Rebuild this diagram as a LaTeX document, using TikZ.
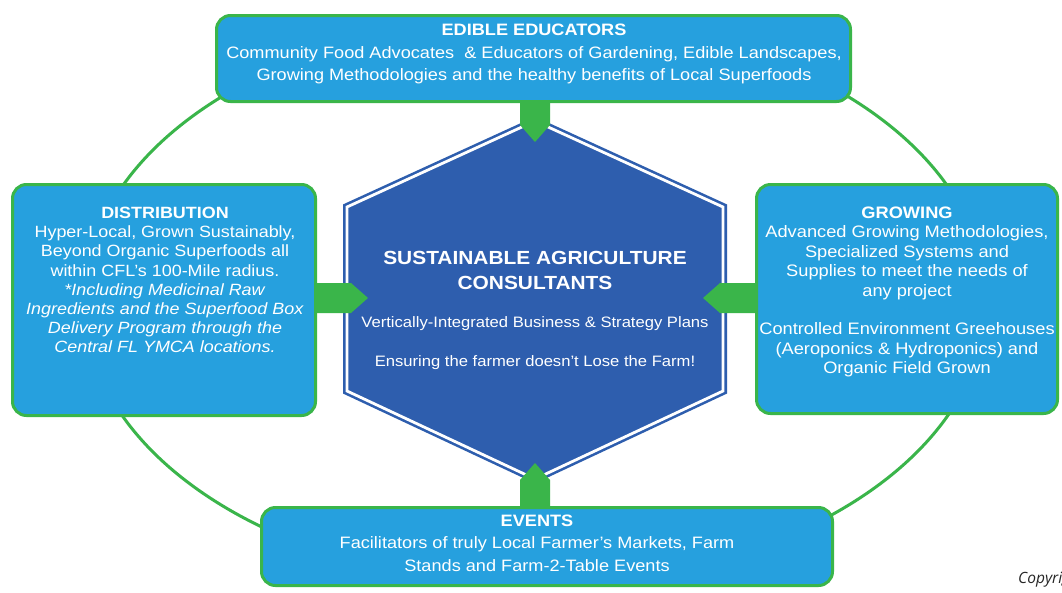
\documentclass[tikz,border=0pt]{standalone}
\usepackage{fontspec}
\setmainfont{Liberation Sans}[FakeStretch=1.1]
\newfontfamily\copyfont{Open Sans}
\usetikzlibrary{calc}
\definecolor{boxblue}{RGB}{38,160,222}
\definecolor{boxgreen}{RGB}{58,181,74}
\definecolor{hexblue}{RGB}{46,94,174}
\begin{document}
\begin{tikzpicture}[x=1pt,y=-1pt,
  panel/.style={draw=boxgreen, fill=boxblue, line width=3pt, rounded corners=14pt, inner sep=0pt},
  paneltext/.style={text=white, align=center, inner sep=0pt},
  fat/.style={fill=boxgreen}]
\useasboundingbox[fill=white] (0,0) rectangle (1062,592);
% ring
\draw[boxgreen, line width=3pt] (535,301) ellipse [x radius=451pt, y radius=284pt];
% panels
\node[panel, minimum width=634pt, minimum height=86pt] (edu) at (533.5,58.5) {};
\node[panel, minimum width=303pt, minimum height=231pt] (dist) at (164,300) {};
\node[panel, minimum width=301pt, minimum height=229pt] (grow) at (907,299) {};
\node[panel, minimum width=571pt, minimum height=78pt] (events) at (547,546.5) {};
% hexagon
\coordinate (hT) at (535,121);
\coordinate (hTR) at (723,207);
\coordinate (hBR) at (723,391);
\coordinate (hB) at (535,479);
\coordinate (hBL) at (347,391);
\coordinate (hTL) at (347,207);
\filldraw[fill=hexblue, draw=hexblue, line width=8pt, line join=miter] (hT)--(hTR)--(hBR)--(hB)--(hBL)--(hTL)--cycle;
\draw[white, line width=2.8pt, line join=miter] (hT)--(hTR)--(hBR)--(hB)--(hBL)--(hTL)--cycle;
% arrow tips
\coordinate (tipT) at (535,142);
\coordinate (tipL) at (368,298);
\coordinate (tipR) at (703,298);
\coordinate (tipB) at (535,463);
% fat arrows
\fill[fat] ($(edu.south -| tipT)+(-15,-2)$) -- ($(edu.south -| tipT)+(15,-2)$) -- ($(tipT)+(15,-17)$) -- (tipT) -- ($(tipT)+(-15,-17)$) -- cycle;
\fill[fat] ($(dist.east |- tipL)+(-2,-15)$) -- ($(dist.east |- tipL)+(-2,15)$) -- ($(tipL)+(-17,15)$) -- (tipL) -- ($(tipL)+(-17,-15)$) -- cycle;
\fill[fat] ($(grow.west |- tipR)+(2,-15)$) -- ($(grow.west |- tipR)+(2,15)$) -- ($(tipR)+(17,15)$) -- (tipR) -- ($(tipR)+(17,-15)$) -- cycle;
\fill[fat] ($(events.north -| tipB)+(-15,2)$) -- ($(events.north -| tipB)+(15,2)$) -- ($(tipB)+(15,17)$) -- (tipB) -- ($(tipB)+(-15,17)$) -- cycle;
% texts
\node[paneltext, font=\fontsize{16.5}{22.5}\selectfont] (edutext) at (534,54)
  {\textbf{EDIBLE EDUCATORS}\\Community Food Advocates \ \& Educators of Gardening, Edible Landscapes,\\Growing Methodologies and the healthy benefits of Local Superfoods};
\node[paneltext, font=\fontsize{16.3}{19.2}\selectfont] (disttext) at (165,280)
  {\textbf{DISTRIBUTION}\\Hyper-Local, Grown Sustainably,\\Beyond Organic Superfoods all\\within CFL's 100-Mile radius.\\\textit{*Including Medicinal Raw}\\\textit{Ingredients and the Superfood Box}\\\textit{Delivery Program through the}\\\textit{Central FL YMCA locations.}};
\node[paneltext, font=\fontsize{16.6}{19.4}\selectfont] (growtext) at (907,292)
  {\textbf{GROWING}\\Advanced Growing Methodologies,\\Specialized Systems and\\Supplies to meet the needs of\\any project\\[19.4pt]Controlled Environment Greehouses\\(Aeroponics \& Hydroponics) and\\Organic Field Grown};
\node[paneltext, font=\fontsize{16.5}{22.5}\selectfont] (eventtext) at (537,543)
  {\textbf{EVENTS}\\Facilitators of truly Local Farmer's Markets, Farm\\Stands and Farm-2-Table Events};
\node[paneltext, font=\bfseries\fontsize{19}{25}\selectfont] (hubtitle) at (535,270.5)
  {SUSTAINABLE AGRICULTURE\\CONSULTANTS};
\node[paneltext, font=\fontsize{15.1}{17}\selectfont] (hubline1) at (535,324)
  {Vertically-Integrated Business \& Strategy Plans};
\node[paneltext, font=\fontsize{15.1}{17}\selectfont] (hubline2) at (535,363)
  {Ensuring the farmer doesn't Lose the Farm!};
\begin{scope}
\clip (0,0) rectangle (1062,592);
\node[anchor=west, inner sep=0pt, text=black!85, font=\copyfont\itshape\fontsize{15.5}{18}\selectfont] (copy) at (1018,579) {Copyright};
\end{scope}
\end{tikzpicture}
\end{document}
